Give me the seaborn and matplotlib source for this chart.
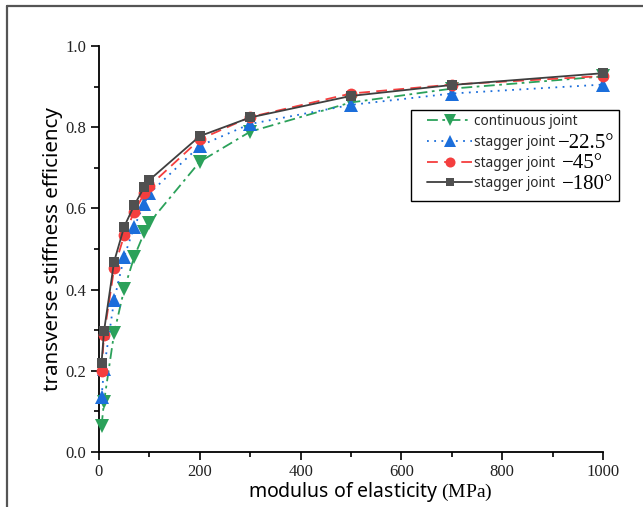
import matplotlib
matplotlib.use("Agg")
import matplotlib.pyplot as plt
import seaborn as sns
from matplotlib.lines import Line2D
from matplotlib.patches import Rectangle
from matplotlib.ticker import MultipleLocator
from matplotlib.font_manager import FontProperties

# Modulus of elasticity (MPa) and transverse stiffness efficiency per joint type
modulus = [5, 10, 30, 50, 70, 90, 100, 200, 300, 500, 700, 1000]
continuous = [0.064, 0.124, 0.293, 0.401, 0.481, 0.541, 0.565, 0.715, 0.789, 0.861, 0.895, 0.925]
stagger_22_5 = [0.135, 0.205, 0.374, 0.481, 0.555, 0.612, 0.637, 0.754, 0.808, 0.855, 0.883, 0.905]
stagger_45 = [0.200, 0.288, 0.452, 0.534, 0.592, 0.637, 0.655, 0.770, 0.825, 0.883, 0.905, 0.926]
stagger_180 = [0.219, 0.298, 0.469, 0.555, 0.608, 0.653, 0.670, 0.778, 0.824, 0.877, 0.904, 0.933]

label_main = ["continuous joint", "stagger joint", "stagger joint ", "stagger joint "]
label_angle = ["", "\u221222.5\u00b0", "\u221245\u00b0", "\u2212180\u00b0"]
x_ticks = [0, 200, 400, 600, 800, 1000]
y_ticks = [0.0, 0.2, 0.4, 0.6, 0.8, 1.0]

series = [continuous, stagger_22_5, stagger_45, stagger_180]
colors = ["#2BA15A", "#1B6EDB", "#F43E3E", "#3F3F3F"]
marker_colors = ["#2BA15A", "#1B6EDB", "#F43E3E", "#505050"]
markers = ["v", "^", "o", "s"]
msizes = [9.5, 9.5, 8.5, 7.5]
styles = [(0, (6, 2.5, 1.5, 2.5)), (0, (1, 3)), (0, (6, 3.5)), "-"]

sns.set_theme(style="white")
SERIF = "Liberation Serif"
SANS = "Noto Sans"
plt.rcParams["font.family"] = [SANS, "DejaVu Sans"]
plt.rcParams["mathtext.fontset"] = "custom"
plt.rcParams["mathtext.rm"] = SERIF

W, H = 643, 507
fig = plt.figure(figsize=(W / 100, H / 100), dpi=100)
ax = fig.add_axes([99 / W, 1 - 452 / H, 504 / W, 406 / H])

for vals, c, mc, m, ms, ls in zip(series, colors, marker_colors, markers, msizes, styles):
    sns.lineplot(x=modulus, y=vals, ax=ax, color=c, linestyle=ls, linewidth=1.3,
                 marker=m, markersize=ms, markerfacecolor=mc, markeredgewidth=0,
                 zorder=3, clip_on=False)

ax.set_xlim(0, 1000)
ax.set_ylim(0, 1.0)
ax.set_xticks(x_ticks)
ax.set_yticks(y_ticks)
ax.set_xticklabels([str(v) for v in x_ticks], fontfamily=SERIF, fontsize=12)
ax.set_yticklabels([f"{v:.1f}" for v in y_ticks], fontfamily=SERIF, fontsize=12)
ax.xaxis.set_minor_locator(MultipleLocator(100))
ax.yaxis.set_minor_locator(MultipleLocator(0.1))
ax.tick_params(which="major", direction="out", length=6, width=1.2, color="black",
               bottom=True, left=True, pad=3, labelcolor="#222222")
ax.tick_params(which="minor", direction="out", length=3.5, width=1.2, color="black",
               bottom=True, left=True)
for side in ["top", "right"]:
    ax.spines[side].set_visible(False)
for side in ["left", "bottom"]:
    ax.spines[side].set_color("black")
    ax.spines[side].set_linewidth(1.3)
ax.grid(False)

ax.set_xlabel("modulus of elasticity $\\mathrm{(MPa)}$", fontsize=14, color="black", labelpad=0)
ax.xaxis.set_label_coords((370 - 99) / 504, -0.068)
ax.set_ylabel("transverse stiffness efficiency", fontsize=14.8, color="black", labelpad=2)

# Legend: frame box, sans-serif names, then a larger serif angle suffix
fig.add_artist(Rectangle((411 / W, 1 - 201 / H), 208 / W, 91 / H, transform=fig.transFigure,
                         facecolor="white", edgecolor="black", linewidth=1.0, zorder=4.5))
handles = [Line2D([], [], color=c, linestyle=ls, linewidth=1.3, marker=m,
                  markersize=ms * 0.85, markerfacecolor=mc, markeredgewidth=0)
           for c, mc, m, ms, ls in zip(colors, marker_colors, markers, msizes, styles)]
LFS = 9.8
leg = fig.legend(handles, label_main, loc="upper left",
                 bbox_to_anchor=(423 / W, 1 - 110 / H), bbox_transform=fig.transFigure,
                 borderaxespad=0, frameon=False, fontsize=LFS, handlelength=3.3,
                 handletextpad=0.15, labelspacing=0.42, borderpad=0.3, numpoints=1)
leg.set_zorder(5)

fig.canvas.draw()
renderer = fig.canvas.get_renderer()
fp = FontProperties(family=[SANS, "DejaVu Sans"], size=LFS)
for txt, lm, la in zip(leg.get_texts(), label_main, label_angle):
    if not la:
        continue
    ext = txt.get_window_extent(renderer)
    fig.text((ext.x1 + 3) / fig.bbox.width, (ext.y0 + ext.height * 0.45) / fig.bbox.height,
             la, fontfamily=SERIF, fontsize=15, ha="left", va="center", color="black",
             zorder=6)

# Frame lines along the top and left edges of the image
fig.add_artist(Line2D([6.5 / W, 1.0], [1 - 5.5 / H, 1 - 5.5 / H],
                      transform=fig.transFigure, color="#555555", linewidth=1.6))
fig.add_artist(Line2D([6.5 / W, 6.5 / W], [0, 1 - 5.5 / H],
                      transform=fig.transFigure, color="#555555", linewidth=1.6))

fig.savefig("out.png", dpi=100)
